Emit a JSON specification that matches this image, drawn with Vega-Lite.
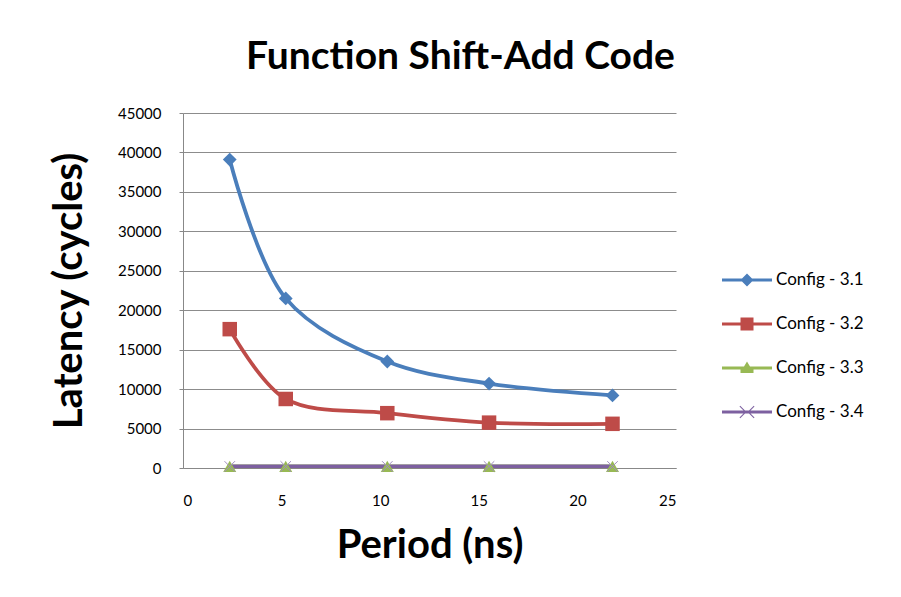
{
  "$schema": "https://vega.github.io/schema/vega-lite/v6.json",
  "width": 493,
  "height": 355,
  "autosize": "none",
  "padding": {"left": 183, "top": 113, "right": 225, "bottom": 129},
  "background": "white",
  "title": {
    "text": "Function Shift-Add Code",
    "font": "Lato",
    "fontSize": 39,
    "fontWeight": "bold",
    "color": "black",
    "anchor": "middle",
    "dx": 31,
    "offset": 29
  },
  "data": {
    "values": [
      {"period": 2.37, "latency": 39100, "config": "Config - 3.1"},
      {"period": 5.21, "latency": 21500, "config": "Config - 3.1"},
      {"period": 10.36, "latency": 13500, "config": "Config - 3.1"},
      {"period": 15.52, "latency": 10700, "config": "Config - 3.1"},
      {"period": 21.78, "latency": 9200, "config": "Config - 3.1"},
      {"period": 2.37, "latency": 17600, "config": "Config - 3.2"},
      {"period": 5.21, "latency": 8750, "config": "Config - 3.2"},
      {"period": 10.36, "latency": 6950, "config": "Config - 3.2"},
      {"period": 15.52, "latency": 5750, "config": "Config - 3.2"},
      {"period": 21.78, "latency": 5600, "config": "Config - 3.2"},
      {"period": 2.37, "latency": 200, "config": "Config - 3.3"},
      {"period": 5.21, "latency": 200, "config": "Config - 3.3"},
      {"period": 10.36, "latency": 200, "config": "Config - 3.3"},
      {"period": 15.52, "latency": 200, "config": "Config - 3.3"},
      {"period": 21.78, "latency": 200, "config": "Config - 3.3"},
      {"period": 2.37, "latency": 200, "config": "Config - 3.4"},
      {"period": 5.21, "latency": 200, "config": "Config - 3.4"},
      {"period": 10.36, "latency": 200, "config": "Config - 3.4"},
      {"period": 15.52, "latency": 200, "config": "Config - 3.4"},
      {"period": 21.78, "latency": 200, "config": "Config - 3.4"}
    ]
  },
  "encoding": {
    "x": {
      "field": "period",
      "type": "quantitative",
      "scale": {"domain": [0, 25], "nice": false},
      "axis": {
        "values": [0, 5, 10, 15, 20, 25],
        "title": "Period (ns)",
        "titleFont": "Lato",
        "titleFontSize": 40,
        "titleFontWeight": "bold",
        "titleColor": "black",
        "titlePadding": 17,
        "labelFont": "Lato",
        "labelFontSize": 15,
        "labelColor": "black",
        "labelPadding": 25,
        "grid": false,
        "domainColor": "#888888",
        "tickColor": "#888888",
        "tickSize": 0
      }
    },
    "y": {
      "field": "latency",
      "type": "quantitative",
      "scale": {"domain": [0, 45000], "nice": false},
      "axis": {
        "values": [0, 5000, 10000, 15000, 20000, 25000, 30000, 35000, 40000, 45000],
        "format": "d",
        "title": "Latency (cycles)",
        "titleFont": "Lato",
        "titleFontSize": 40,
        "titleFontWeight": "bold",
        "titleColor": "black",
        "titlePadding": 28,
        "labelFont": "Lato",
        "labelFontSize": 15,
        "labelColor": "black",
        "labelPadding": 18,
        "grid": true,
        "gridColor": "#8c8c8c",
        "gridWidth": 1,
        "domainColor": "#888888",
        "tickColor": "#888888",
        "tickSize": 4
      }
    }
  },
  "layer": [
    {
      "mark": {"type": "line", "interpolate": "catmull-rom", "strokeWidth": 3.8},
      "encoding": {
        "stroke": {
          "field": "config",
          "type": "nominal",
          "scale": {
            "domain": ["Config - 3.1", "Config - 3.2", "Config - 3.3", "Config - 3.4"],
            "range": ["#4A7EBB", "#BE4B48", "#98B954", "#7D60A0"]
          },
          "legend": null
        }
      }
    },
    {
      "transform": [{"filter": "datum.config == 'Config - 3.1'"}],
      "mark": {"type": "point", "filled": true, "opacity": 1, "shape": "diamond", "size": 190, "color": "#4A7EBB"}
    },
    {
      "transform": [{"filter": "datum.config == 'Config - 3.2'"}],
      "mark": {"type": "point", "filled": true, "opacity": 1, "shape": "square", "size": 210, "color": "#BE4B48"}
    },
    {
      "transform": [{"filter": "datum.config == 'Config - 3.3'"}],
      "mark": {"type": "point", "filled": true, "opacity": 1, "shape": "triangle-up", "size": 170, "color": "#98B954"}
    },
    {
      "transform": [{"filter": "datum.config == 'Config - 3.4'"}],
      "mark": {"type": "point", "filled": false, "opacity": 1, "shape": "M-1,-1L1,1M-1,1L1,-1", "size": 110, "strokeWidth": 1, "color": "#A08CC0"}
    },
    {
      "transform": [{"filter": "datum.latency < 0"}],
      "mark": {"type": "point", "filled": true, "opacity": 1},
      "encoding": {
        "color": {
          "field": "config",
          "type": "nominal",
          "title": null,
          "scale": {
            "domain": ["Config - 3.1", "Config - 3.2", "Config - 3.3", "Config - 3.4"],
            "range": ["#4A7EBB", "#BE4B48", "#98B954", "#7D60A0"]
          },
          "legend": {
            "orient": "none",
            "legendX": 539,
            "legendY": 142,
            "symbolSize": 2500,
            "symbolStrokeWidth": 0,
            "symbolOpacity": 1,
            "labelFont": "Lato",
            "labelFontSize": 17,
            "labelColor": "black",
            "labelOffset": 4,
            "rowPadding": 11
          }
        },
        "shape": {
          "field": "config",
          "type": "nominal",
          "title": null,
          "scale": {
            "domain": ["Config - 3.1", "Config - 3.2", "Config - 3.3", "Config - 3.4"],
            "range": [
              "M-1,-0.06H-0.2L0,-0.26L0.2,-0.06H1V0.06H0.2L0,0.26L-0.2,0.06H-1Z",
              "M-1,-0.06H-0.26V-0.26H0.26V-0.06H1V0.06H0.26V0.26H-0.26V0.06H-1Z",
              "M-1,-0.06H-0.12L0,-0.26L0.12,-0.06H1V0.06H0.26L0.26,0.2H-0.26L-0.26,0.06H-1Z",
              "M-1,-0.06H-0.14L-0.3,-0.22L-0.27,-0.25L-0.08,-0.06H0.08L0.27,-0.25L0.3,-0.22L0.14,-0.06H1V0.06H0.14L0.3,0.22L0.27,0.25L0.08,0.06H-0.08L-0.27,0.25L-0.3,0.22L-0.14,0.06H-1Z"
            ]
          },
          "legend": {
            "orient": "none",
            "legendX": 539,
            "legendY": 142,
            "symbolSize": 2500,
            "symbolStrokeWidth": 0,
            "symbolOpacity": 1,
            "labelFont": "Lato",
            "labelFontSize": 17,
            "labelColor": "black",
            "labelOffset": 4,
            "rowPadding": 11
          }
        }
      }
    }
  ],
  "resolve": {"scale": {"shape": "independent", "color": "independent"}},
  "config": {
    "view": {"stroke": null}
  }
}
